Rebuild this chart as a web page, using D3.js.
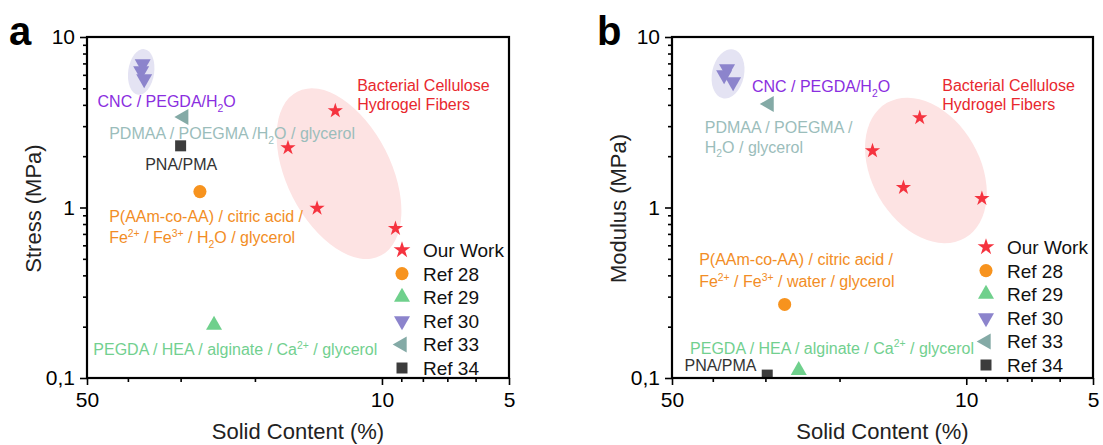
<!DOCTYPE html>
<html><head><meta charset="utf-8">
<script src="https://cdn.jsdelivr.net/npm/d3@7"></script>
<style>
body{margin:0;background:#fff}
svg{display:block;font-family:"Liberation Sans",Arial,Helvetica,sans-serif}
</style>
</head><body>
<svg id="c" width="1103" height="445"></svg>
<script>
// ---------- shared axis data ----------
const xTickValues = [50, 10, 5];
const xMinorTicks = [40, 30, 20, 9, 8, 7, 6];
const yTickValues = [0.1, 1, 10];
const yTickLabels = ["0,1", "1", "10"];
const yMinorTicks = [0.2,0.3,0.4,0.5,0.6,0.7,0.8,0.9,2,3,4,5,6,7,8,9];

const seriesNames = ["Our Work", "Ref 28", "Ref 29", "Ref 30", "Ref 33", "Ref 34"];

// ---------- panel a : Stress ----------
const aOurWorkX = [12.9, 16.7, 14.25, 9.29];
const aOurWorkY = [3.69, 2.24, 0.99, 0.754];
const aRef28X = [27.0];  const aRef28Y = [1.24];
const aRef29X = [25.0];  const aRef29Y = [0.204];
const aRef30X = [36.9, 37.2, 36.6]; const aRef30Y = [6.95, 6.32, 5.68];
const aRef33X = [29.5];  const aRef33Y = [3.4];
const aRef34X = [30.0];  const aRef34Y = [2.3];

const aNoteText = ["Bacterial Cellulose|Hydrogel Fibers", "CNC / PEGDA/H_{2}O",
  "PDMAA / POEGMA /H_{2}O / glycerol", "PNA/PMA",
  "P(AAm-co-AA) / citric acid /|Fe^{2+} / Fe^{3+} / H_{2}O / glycerol",
  "PEGDA / HEA / alginate / Ca^{2+} / glycerol"];
const aNoteX = [11.45, 47.2, 44.3, 36.4, 44.3, 48.3];
const aNoteY = [4.83, 3.9, 2.53, 1.67, 0.817, 0.136];

// ---------- panel b : Modulus ----------
const bOurWorkX = [12.9, 16.7, 14.1, 9.18];
const bOurWorkY = [3.36, 2.15, 1.31, 1.13];
const bRef28X = [27.0];  const bRef28Y = [0.27];
const bRef29X = [25.0];  const bRef29Y = [0.111];
const bRef30X = [37.0, 37.6, 35.8]; const bRef30Y = [6.5, 6.0, 5.45];
const bRef33X = [29.4];  const bRef33Y = [4.05];
const bRef34X = [29.7];  const bRef34Y = [0.104];

const bNoteText = ["Bacterial Cellulose|Hydrogel Fibers", "CNC / PEGDA/H_{2}O",
  "PDMAA / POEGMA /|H_{2}O / glycerol",
  "P(AAm-co-AA) / citric acid /|Fe^{2+} / Fe^{3+} / water / glycerol",
  "PEGDA / HEA / alginate / Ca^{2+} / glycerol", "PNA/PMA"];
const bNoteX = [11.4, 32.3, 41.8, 43.1, 45.3, 46.7];
const bNoteY = [4.83, 4.77, 2.75, 0.458, 0.138, 0.11];

// ---------- styles ----------
const seriesSymbols = ["star", "circle", "up", "down", "left", "square"];
const seriesColors = ["#f5333f", "#f7931e", "#6fd08c", "#8c84cc", "#84aaa6", "#3c3c3c"];
const C = {red:"#e8282e", purple:"#8a2ee0", teal:"#9bbdbb", orange:"#f28d25", green:"#72d08f", dark:"#333333"};
const aNoteColors = [C.red, C.purple, C.teal, C.dark, C.orange, C.green];
const bNoteColors = [C.red, C.purple, C.teal, C.orange, C.green, C.dark];
const aNoteLead = [19, 0, 0, 0, 21, 0];
const bNoteLead = [19, 0, 20, 22, 0, 0];

const TOP = 37, BOTTOM = 378;

const svg = d3.select("#c");
const defs = svg.append("defs");

function symbolPath(kind, k) {
  k = k || 1;
  let w, h;
  switch (kind) {
    case "star": return d3.symbol(d3.symbolStar, 72 * k * k)();
    case "circle": return d3.symbol(d3.symbolCircle, 135 * k * k)();
    case "square": return d3.symbol(d3.symbolSquare, 121 * k * k)();
    case "up": w = 16 * k; h = 14 * k; return `M0,${-2*h/3}L${w/2},${h/3}L${-w/2},${h/3}Z`;
    case "down": w = 16 * k; h = 14 * k; return `M0,${2*h/3}L${w/2},${-h/3}L${-w/2},${-h/3}Z`;
    case "left": w = 16 * k; h = 14 * k; return `M${-2*h/3},0L${h/3},${-w/2}L${h/3},${w/2}Z`;
  }
}

function richLine(textSel, str, fs, x, dyFirst) {
  const parts = str.split(/(_\{[^}]*\}|\^\{[^}]*\})/).filter(s => s.length);
  let cur = 0, first = true;
  parts.forEach(p => {
    const t = textSel.append("tspan");
    let target = 0, content = p, size = fs;
    if (p.startsWith("_{")) { target = fs * 0.3; content = p.slice(2, -1); size = fs * 0.65; }
    else if (p.startsWith("^{")) { target = -fs * 0.42; content = p.slice(2, -1); size = fs * 0.65; }
    let dy = target - cur;
    if (first) { t.attr("x", x); dy += dyFirst; first = false; }
    t.attr("dy", dy).attr("font-size", size).text(content);
    cur = target;
  });
  return cur;
}

function drawPanel(p) {
  const x = d3.scaleLog().domain([50, 5]).range([p.left, p.right]);
  const y = d3.scaleLog().domain([0.1, 10]).range([BOTTOM, TOP]);
  const g = svg.append("g");
  const clipId = "clip-" + p.id;
  defs.append("clipPath").attr("id", clipId).append("rect")
    .attr("x", p.left).attr("y", TOP).attr("width", p.right - p.left).attr("height", BOTTOM - TOP);
  const plot = g.append("g").attr("clip-path", `url(#${clipId})`);

  // highlight blobs
  p.blobs.forEach(b => {
    plot.append("ellipse").attr("rx", b.rx).attr("ry", b.ry)
      .attr("transform", `translate(${x(b.x)},${y(b.y)}) rotate(${b.angle})`)
      .attr("fill", b.fill);
  });

  // annotations
  p.notes.forEach((txt, i) => {
    const t = g.append("text").attr("x", x(p.noteX[i])).attr("y", y(p.noteY[i]))
      .attr("fill", p.noteColors[i]).attr("font-size", 16);
    const lines = txt.split("|");
    let cur = 0;
    lines.forEach((ln, j) => {
      const dyFirst = j === 0 ? 0 : p.noteLead[i] - cur;
      cur = richLine(t, ln, 16, x(p.noteX[i]), j === 0 ? 0 : dyFirst);
      if (j > 0) {}
    });
  });

  // markers
  p.series.forEach((s, i) => {
    plot.selectAll(null).data(d3.zip(s[0], s[1])).join("path")
      .attr("d", symbolPath(seriesSymbols[i]))
      .attr("transform", d => `translate(${x(d[0])},${y(d[1])})`)
      .attr("fill", seriesColors[i]);
  });

  // axes
  const xa = g.append("g").attr("transform", `translate(0,${BOTTOM})`)
    .call(d3.axisBottom(x).tickValues(xTickValues).tickFormat(d3.format("d")).tickSize(7).tickPadding(7));
  const xm = g.append("g").attr("transform", `translate(0,${BOTTOM})`)
    .call(d3.axisBottom(x).tickValues(xMinorTicks).tickFormat("").tickSize(4));
  const ya = g.append("g").attr("transform", `translate(${p.left},0)`)
    .call(d3.axisLeft(y).tickValues(yTickValues).tickFormat((d, i) => yTickLabels[i]).tickSize(7).tickPadding(5));
  const ym = g.append("g").attr("transform", `translate(${p.left},0)`)
    .call(d3.axisLeft(y).tickValues(yMinorTicks).tickFormat("").tickSize(4));
  [xa, xm, ya, ym].forEach(a => {
    a.select(".domain").remove();
    a.selectAll("line").attr("stroke", "#000").attr("stroke-width", 1.6);
    a.selectAll("text").attr("font-size", 21).attr("fill", "#000")
      .attr("font-family", '"Liberation Sans",Arial,sans-serif');
  });

  g.append("rect").attr("x", p.left).attr("y", TOP)
    .attr("width", p.right - p.left).attr("height", BOTTOM - TOP)
    .attr("fill", "none").attr("stroke", "#000").attr("stroke-width", 2.2);

  // axis titles
  g.append("text").attr("x", (p.left + p.right) / 2).attr("y", 439)
    .attr("text-anchor", "middle").attr("font-size", 22).attr("fill", "#222").text("Solid Content (%)");
  g.append("text").attr("transform", `translate(${p.left - 46},${(TOP + BOTTOM) / 2 + 1}) rotate(-90)`)
    .attr("text-anchor", "middle").attr("font-size", 22).attr("fill", "#222").text(p.yTitle);

  // panel letter
  g.append("text").attr("x", p.letterX).attr("y", 45).attr("font-size", 40)
    .attr("font-weight", "bold").attr("fill", "#000").text(p.id);

  // legend
  const lg = g.append("g").attr("transform", `translate(${p.right - 107},${p.legendTop})`);
  seriesNames.forEach((name, i) => {
    const row = lg.append("g").attr("transform", `translate(0,${i * 23.6})`);
    row.append("path").attr("d", symbolPath(seriesSymbols[i], i === 0 ? 1.1 : 1)).attr("fill", seriesColors[i]);
    row.append("text").attr("x", 21).attr("y", 7).attr("font-size", 19).attr("fill", "#111").text(name);
  });
}

drawPanel({
  id: "a", left: 87, right: 509, letterX: 9, yTitle: "Stress (MPa)", legendTop: 250,
  series: [[aOurWorkX, aOurWorkY], [aRef28X, aRef28Y], [aRef29X, aRef29Y], [aRef30X, aRef30Y], [aRef33X, aRef33Y], [aRef34X, aRef34Y]],
  notes: aNoteText, noteX: aNoteX, noteY: aNoteY, noteColors: aNoteColors, noteLead: aNoteLead,
  blobs: [
    {x: 12.64, y: 1.58, rx: 92, ry: 52, angle: 63, fill: "#fde3e3"},
    {x: 37.2, y: 6.24, rx: 13, ry: 23, angle: 8, fill: "#e4e3f3"}
  ]
});
drawPanel({
  id: "b", left: 672, right: 1093, letterX: 597, yTitle: "Modulus (MPa)", legendTop: 247,
  series: [[bOurWorkX, bOurWorkY], [bRef28X, bRef28Y], [bRef29X, bRef29Y], [bRef30X, bRef30Y], [bRef33X, bRef33Y], [bRef34X, bRef34Y]],
  notes: bNoteText, noteX: bNoteX, noteY: bNoteY, noteColors: bNoteColors, noteLead: bNoteLead,
  blobs: [
    {x: 12.47, y: 1.65, rx: 78, ry: 54, angle: 60, fill: "#fde3e3"},
    {x: 36.8, y: 6.08, rx: 16, ry: 25, angle: 12, fill: "#e4e3f3"}
  ]
});
</script>
</body></html>
